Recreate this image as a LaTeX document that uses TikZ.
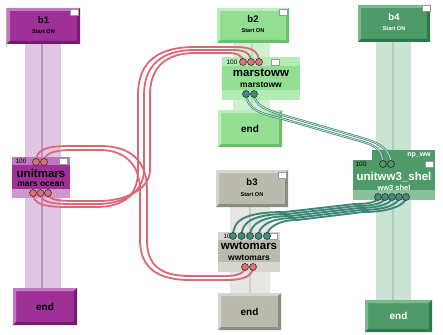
\documentclass[tikz,border=0pt]{standalone}
\usepackage{fontspec}
\setmainfont{Liberation Sans}
\definecolor{pBase}{RGB}{158,48,152}
\definecolor{pLight}{RGB}{196,120,192}
\definecolor{pDark}{RGB}{118,28,112}
\definecolor{pPil}{RGB}{224,198,228}
\definecolor{pPilL}{RGB}{196,140,202}
\definecolor{pTop}{RGB}{190,118,190}
\definecolor{pBot}{RGB}{206,152,206}
\definecolor{gBase}{RGB}{146,222,146}
\definecolor{gLight}{RGB}{188,238,188}
\definecolor{gDark}{RGB}{108,188,108}
\definecolor{gPil}{RGB}{208,240,208}
\definecolor{gPilL}{RGB}{176,224,176}
\definecolor{gBand}{RGB}{180,234,180}
\definecolor{yBase}{RGB}{186,186,174}
\definecolor{yLight}{RGB}{214,214,206}
\definecolor{yDark}{RGB}{140,140,130}
\definecolor{yPil}{RGB}{230,230,226}
\definecolor{yPilL}{RGB}{206,206,200}
\definecolor{yBand}{RGB}{214,214,206}
\definecolor{dBase}{RGB}{78,154,104}
\definecolor{dLight}{RGB}{122,186,142}
\definecolor{dDark}{RGB}{48,118,78}
\definecolor{dPil}{RGB}{202,228,212}
\definecolor{dPilL}{RGB}{170,208,186}
\definecolor{dBand}{RGB}{138,192,154}
\definecolor{pinkLn}{RGB}{218,104,118}
\definecolor{pinkPt}{RGB}{228,108,124}
\definecolor{tealLn}{RGB}{62,134,118}
\definecolor{tealIn}{RGB}{200,228,220}
\definecolor{tealPt}{RGB}{64,140,128}
\tikzset{
  bev/.style n args={3}{fill=#1, inner sep=0pt, path picture={
    \path (path picture bounding box.north west) coordinate (pnw)
          (path picture bounding box.north east) coordinate (pne)
          (path picture bounding box.south west) coordinate (psw)
          (path picture bounding box.south east) coordinate (pse);
    \fill[#2] (pnw) -- (pne) -- ([xshift=-3pt,yshift=-3pt]pne) -- ([xshift=3pt,yshift=-3pt]pnw) -- ([xshift=3pt,yshift=3pt]psw) -- (psw) -- cycle;
    \fill[#3] (pse) -- (pne) -- ([xshift=-3pt,yshift=-3pt]pne) -- ([xshift=-3pt,yshift=3pt]pse) -- ([xshift=3pt,yshift=3pt]psw) -- (psw) -- cycle;
  }},
  plain/.style={fill=#1, inner sep=0pt},
  ttl/.style={inner sep=0pt, font=\bfseries\fontsize{9.5}{10}\selectfont},
  stt/.style={inner sep=0pt, font=\bfseries\fontsize{5.6}{6}\selectfont},
  unm/.style={inner sep=0pt, font=\bfseries\fontsize{11.5}{12}\selectfont},
  usb/.style={inner sep=0pt, font=\bfseries\fontsize{8.5}{9}\selectfont},
  endt/.style={inner sep=0pt, font=\bfseries\fontsize{10}{10}\selectfont},
  num/.style={inner sep=0pt, font=\fontsize{6.5}{7}\selectfont},
  wsq/.style={fill=white, draw=black!40, line width=0.4pt, minimum width=8pt, minimum height=6pt, inner sep=0pt},
  pinkport/.style={circle, fill=pinkPt, draw=black!80, line width=0.6pt, minimum size=7pt, inner sep=0pt},
  tealport/.style={circle, fill=tealPt, draw=black!80, line width=0.6pt, minimum size=7pt, inner sep=0pt},
  dport/.style={circle, fill=dBase, draw=black!85, line width=0.6pt, minimum size=7pt, inner sep=0pt},
  pinkwire/.style={draw=pinkLn, line width=1.8pt},
  tealwire/.style={draw=tealLn, line width=0.7pt, double=tealIn, double distance=0.8pt},
  tealfat/.style={draw=tealLn, line width=1.9pt},
}
\begin{document}
\begin{tikzpicture}[x=1pt,y=-1pt]
\useasboundingbox[fill=white] (0,0) rectangle (443,334);
% pillars
\fill[pPil] (25,44) rectangle (61,290);
\draw[pPilL, line width=1.2pt] (42,44) -- (42,290);
\fill[gPil] (233,43) rectangle (270,112);
\draw[gPilL, line width=1.2pt] (252,43) -- (252,112);
\fill[yPil] (230,207) rectangle (270,295);
\draw[yPilL, line width=1.2pt] (250,207) -- (250,295);
\fill[dPil] (376,42) rectangle (411,302);
\draw[dPilL, line width=1.2pt] (393,42) -- (393,302);
\draw[black!30, line width=1pt] (6,8) -- (6,47);

% ---- column b1
\node[bev={pBase}{pLight}{pDark}, minimum width=73pt, minimum height=36pt] (b1) at (43.5,26) {};
\node[wsq] (b1sq) at (74.5,12.5) {};
\node[ttl] (b1t) at (43.5,20) {b1};
\node[stt] (b1s) at (43.5,32) {Start ON};
\node[plain=pBase, minimum width=58pt, minimum height=41pt] (um) at (41,177.5) {};
\fill[pTop] (um.north west) rectangle ([yshift=-8pt]um.north east);
\fill[pBot] (um.south west) rectangle ([yshift=9pt]um.south east);
\node[num] (umn) at (21,161) {100};
\node[wsq] (umsq) at (63.5,161) {};
\node[unm] (umt) at (41,173) {unitmars};
\node[usb] (ums) at (41,184.5) {mars ocean};
\node[bev={pBase}{pLight}{pDark}, minimum width=64pt, minimum height=37pt] (e1) at (45,306.5) {};
\node[endt] (e1t) at (45,306.5) {end};

% ---- column b2
\node[bev={gBase}{gLight}{gDark}, minimum width=72pt, minimum height=35pt] (b2) at (253,25.5) {};
\node[wsq] (b2sq) at (283.5,12) {};
\node[ttl] (b2t) at (253,19) {b2};
\node[stt] (b2s) at (253,31) {Start ON};
\node[plain=gBase, minimum width=78pt, minimum height=43pt] (mw) at (261,78.5) {};
\fill[gBand] (mw.north west) rectangle ([yshift=-9pt]mw.north east);
\fill[gBand] (mw.south west) rectangle ([yshift=10pt]mw.south east);
\node[num] (mwn) at (232,62) {100};
\node[wsq] (mwsq) at (275,62) {};
\node[unm] (mwt) at (261,72.5) {marstoww};
\node[usb] (mws) at (261,84.5) {marstoww};
\node[bev={gBase}{gLight}{gDark}, minimum width=64pt, minimum height=37pt] (e2) at (250,128.5) {};
\node[endt] (e2t) at (250,128.5) {end};

% ---- column b3
\node[bev={yBase}{yLight}{yDark}, minimum width=72pt, minimum height=37pt] (b3) at (252,188.5) {};
\node[wsq] (b3sq) at (282.5,175) {};
\node[ttl] (b3t) at (252,182) {b3};
\node[stt] (b3s) at (252,195) {Start ON};
\node[plain=yBase, minimum width=62pt, minimum height=40pt] (wm) at (249,252) {};
\fill[yBand] (wm.north west) rectangle ([yshift=-8pt]wm.north east);
\fill[yBand] (wm.south west) rectangle ([yshift=10pt]wm.south east);
\node[num] (wmn) at (229,236) {100};
\node[wsq] (wmsq) at (273,236) {};
\node[unm] (wmt) at (249,246) {wwtomars};
\node[usb] (wms) at (249,257.5) {wwtomars};
\node[bev={yBase}{yLight}{yDark}, minimum width=63pt, minimum height=37pt] (e3) at (249.5,311.5) {};
\node[endt] (e3t) at (249.5,311.5) {end};

% ---- column b4
\node[bev={dBase}{dLight}{dDark}, minimum width=72pt, minimum height=37pt] (b4) at (394,23.5) {};
\node[wsq] (b4sq) at (426,8) {};
\node[ttl, text=white] (b4t) at (394,17) {b4};
\node[stt, text=white] (b4s) at (394,29) {Start ON};
\node[plain=dBase, minimum width=63pt, minimum height=10pt] (np) at (403.5,155) {};
\node[plain=dBase, minimum width=82pt, minimum height=40pt] (us) at (394,180) {};
\fill[dBand] (us.south west) rectangle ([yshift=10pt]us.south east);
\node[inner sep=0pt, text=white, font=\bfseries\fontsize{7}{7}\selectfont] (npt) at (419,155.5) {np\_ww};
\node[num] (usn) at (361,164) {100};
\node[wsq] (ussq) at (429,164) {};
\node[unm, text=white] (ust) at (394,177) {unitww3\_shel};
\node[usb, text=white, font=\bfseries\fontsize{7.5}{8}\selectfont] (uss) at (394,187.5) {ww3 shel};
\node[bev={dBase}{dLight}{dDark}, minimum width=67pt, minimum height=32pt] (e4) at (398.5,316) {};
\node[endt, text=white] (e4t) at (398.5,316) {end};

% ports (coordinates)
\coordinate (umT1) at (36,162); \coordinate (umT2) at (44,162);
\coordinate (umB1) at (33,193); \coordinate (umB2) at (40.5,193); \coordinate (umB3) at (48,193);
\coordinate (mwT1) at (243,62); \coordinate (mwT2) at (251,62); \coordinate (mwT3) at (259,62);
\coordinate (mwB1) at (246,94); \coordinate (mwB2) at (254,94);
\coordinate (wmT1) at (233,236); \coordinate (wmT2) at (241.5,236); \coordinate (wmT3) at (250,236); \coordinate (wmT4) at (258.5,236); \coordinate (wmT5) at (267,236);
\coordinate (wmB1) at (245,267); \coordinate (wmB2) at (253,267);
\coordinate (usT1) at (383,164); \coordinate (usT2) at (391,164);
\coordinate (usB1) at (378,197); \coordinate (usB2) at (385,197); \coordinate (usB3) at (392,197); \coordinate (usB4) at (399,197); \coordinate (usB5) at (406,197);

% pink wires: unitmars bottom -> marstoww top
\draw[pinkwire] (umB1) .. controls (33,205) and (45,207) .. (70,207) -- (95,207) .. controls (125,207) and (138,195) .. (138,170) -- (138,95) .. controls (138,60) and (160,47) .. (195,47) -- (235,47) .. controls (250,47) and (259,50) .. (mwT3);
\draw[pinkwire] (umB2) .. controls (40.5,202) and (50,204) .. (72,204) -- (97,204) .. controls (124,204) and (144,192) .. (144,170) -- (144,95) .. controls (144,64) and (163,50) .. (195,50) -- (232,50) .. controls (245,50) and (251,53) .. (mwT2);
\draw[pinkwire] (umB3) .. controls (48,199) and (55,201) .. (74,201) -- (99,201) .. controls (124,201) and (150,190) .. (150,170) -- (150,95) .. controls (150,67) and (166,53) .. (195,53) -- (228,53) .. controls (238,53) and (243,56) .. (mwT1);
% pink wires: unitmars top -> wwtomars bottom
\draw[pinkwire] (umT1) .. controls (36,150) and (45,146) .. (70,146) -- (100,146) .. controls (130,146) and (147,160) .. (147,190) -- (147,240) .. controls (147,265) and (160,276) .. (190,276) -- (225,276) .. controls (238,276) and (245,273) .. (wmB1);
\draw[pinkwire] (umT2) .. controls (44,154) and (52,150) .. (72,150) -- (100,150) .. controls (125,150) and (140,165) .. (140,190) -- (140,240) .. controls (140,268) and (158,280) .. (190,280) -- (228,280) .. controls (245,280) and (253,275) .. (wmB2);

% teal wires: marstoww bottom -> unitww3 top
\draw[tealwire] (mwB1) .. controls (247,110) and (262,114) .. (283,119) -- (360,141) .. controls (375,145) and (383,150) .. (usT1);
\draw[tealwire] (mwB2) .. controls (255,106) and (266,110) .. (286,116) -- (362,138) .. controls (380,143) and (391,150) .. (usT2);

% teal wires: unitww3 bottom -> wwtomars top
\draw[tealfat] (usB1) .. controls (378,201) and (372,204) .. (355,204) -- (285,212) .. controls (245,212) and (233,220) .. (wmT1);
\draw[tealfat] (usB2) .. controls (385,202) and (377,206) .. (357,206) -- (288,214) .. controls (253,214) and (241.5,222) .. (wmT2);
\draw[tealfat] (usB3) .. controls (392,203) and (381,208) .. (359,208) -- (291,216) .. controls (262,216) and (250,224) .. (wmT3);
\draw[tealfat] (usB4) .. controls (399,204) and (386,210) .. (361,210) -- (294,218) .. controls (270,218) and (258.5,226) .. (wmT4);
\draw[tealfat] (usB5) .. controls (406,205) and (390,212) .. (363,212) -- (297,220) .. controls (278,220) and (267,228) .. (wmT5);

% port circles
\foreach \p in {umT1,umT2,umB1,umB2,umB3,mwT1,mwT2,mwT3,wmB1,wmB2}
  \node[pinkport] (c\p) at (\p) {};
\foreach \p in {mwB1,mwB2,wmT1,wmT2,wmT3,wmT4,wmT5,usB1,usB2,usB3,usB4,usB5}
  \node[tealport] (c\p) at (\p) {};
\foreach \p in {usT1,usT2}
  \node[dport] (c\p) at (\p) {};
\end{tikzpicture}
\end{document}
